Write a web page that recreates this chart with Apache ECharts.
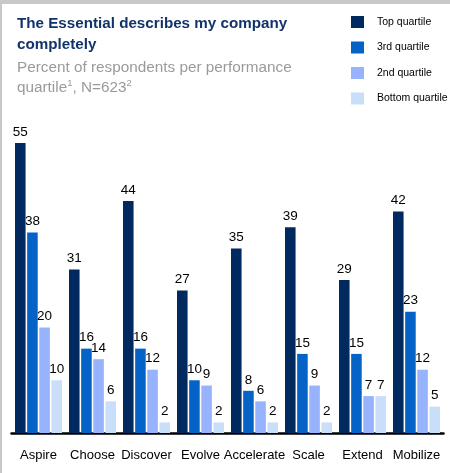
<!DOCTYPE html>
<html>
<head>
<meta charset="utf-8">
<script src="https://cdn.jsdelivr.net/npm/echarts@6/dist/echarts.min.js"></script>
<style>
html,body{margin:0;padding:0;background:#fff;}
#chart{width:450px;height:473px;}
</style>
</head>
<body>
<div id="chart"></div>
<script>
const categories = ['Aspire', 'Choose', 'Discover', 'Evolve', 'Accelerate', 'Scale', 'Extend', 'Mobilize'];
const seriesNames = ['Top quartile', '3rd quartile', '2nd quartile', 'Bottom quartile'];
const topQuartile = [55, 31, 44, 27, 35, 39, 29, 42];
const thirdQuartile = [38, 16, 16, 10, 8, 15, 15, 23];
const secondQuartile = [20, 14, 12, 9, 6, 9, 7, 12];
const bottomQuartile = [10, 6, 2, 2, 2, 2, 7, 5];
const colors = ['#002960', '#0563c8', '#97b3fd', '#c9dff9'];

const FONT = '"Liberation Sans", Arial, sans-serif';
const chart = echarts.init(document.getElementById('chart'), null, {renderer: 'canvas'});
const allData = [topQuartile, thirdQuartile, secondQuartile, bottomQuartile];

chart.setOption({
  backgroundColor: '#ffffff',
  animation: false,
  textStyle: {fontFamily: FONT},
  title: [
    {
      text: 'The Essential describes my company\ncompletely',
      left: 12, top: 8,
      textStyle: {fontFamily: FONT, fontSize: 15.2, fontWeight: 'bold', color: '#12336a', lineHeight: 21}
    },
    {
      text: 'Percent of respondents per performance\nquartile{s|1}, N=623{s|2}',
      left: 12, top: 53,
      textStyle: {
        fontFamily: FONT, fontSize: 15.3, fontWeight: 'normal', color: '#9a9a9a', lineHeight: 20,
        rich: {s: {fontFamily: FONT, fontSize: 9.5, color: '#9a9a9a', verticalAlign: 'top', lineHeight: 12}}
      }
    }
  ],
  legend: {
    orient: 'vertical',
    left: 351, top: 16,
    padding: 0,
    itemWidth: 13, itemHeight: 12, itemGap: 13.5,
    icon: 'rect',
    data: seriesNames,
    textStyle: {fontFamily: FONT, fontSize: 10.5, color: '#000', lineHeight: 12, padding: [0, 0, 0, 8]}
  },
  grid: {left: 11.5, right: 6.5, top: 116.6, bottom: 40},
  xAxis: {
    type: 'category',
    data: categories,
    axisLine: {lineStyle: {color: '#000', width: 2.5}},
    axisTick: {show: false},
    axisLabel: {fontFamily: FONT, fontSize: 13, color: '#000', margin: 16, interval: 0}
  },
  yAxis: {
    type: 'value', min: 0, max: 60, show: false,
    splitLine: {show: false}
  },
  graphic: [
    {type: 'rect', left: 0, top: 0, shape: {width: 450, height: 4}, style: {fill: '#c8c8c8'}, z: 100},
    {type: 'rect', left: 0, top: 0, shape: {width: 2, height: 473}, style: {fill: '#c8c8c8'}, z: 100}
  ],
  series: seriesNames.map((name, i) => ({
    name: name,
    type: 'bar',
    data: allData[i],
    barGap: '15%',
    barCategoryGap: '13%',
    itemStyle: {color: colors[i]},
    label: {
      show: true, position: 'top', distance: 4,
      fontFamily: FONT, fontSize: 13.5, color: '#000'
    }
  }))
});
</script>
</body>
</html>
